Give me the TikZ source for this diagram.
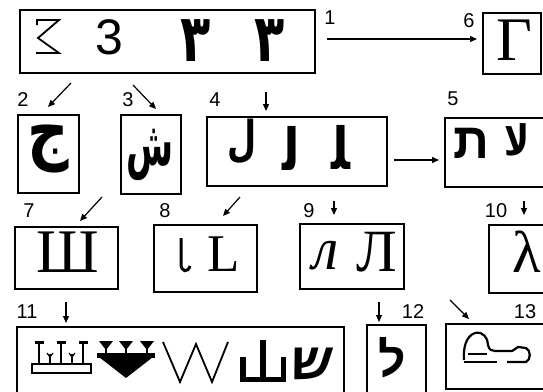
\documentclass[tikz,border=0pt]{standalone}
\usepackage{fontspec}
\usetikzlibrary{arrows.meta}
\newfontfamily\lab{Liberation Sans}
\newfontfamily\ser{Liberation Serif}
\newfontfamily\arb[Script=Arabic]{DejaVu Sans}
\newfontfamily\heb[Script=Hebrew]{Liberation Sans}
\TeXXeTstate=1
\tikzset{
  frame/.style={draw, line width=1.2pt, inner sep=0pt, outer sep=0pt},
  num/.style={font=\lab\fontsize{20}{20}\selectfont, inner sep=0pt},
  glyph/.style={inner sep=0pt, outer sep=0pt},
  conn/.style={line width=1.2pt, -{Triangle[length=7pt,width=6pt]}},
  ink/.style={line width=1.6pt, line join=miter}
}
\begin{document}
\begin{tikzpicture}[x=1pt,y=-1pt]
\useasboundingbox (0,0) rectangle (543,391);
\clip (0,0) rectangle (543,391);
\fill[white] (0,0) rectangle (543,391);
% boxes
\node[frame, minimum width=295pt, minimum height=63pt] (b1) at (167.5,41.5) {};
\node[frame, minimum width=58pt, minimum height=61pt] (b6) at (512,43.5) {};
\node[frame, minimum width=61pt, minimum height=78pt] (b2) at (48.5,154) {};
\node[frame, minimum width=60pt, minimum height=79pt] (b3) at (151,154.5) {};
\node[frame, minimum width=180pt, minimum height=69pt] (b4) at (297,151.5) {};
\node[frame, minimum width=115pt, minimum height=69pt] (b5) at (502.5,152.5) {};
\node[frame, minimum width=103pt, minimum height=62pt] (b7) at (66.5,258) {};
\node[frame, minimum width=103pt, minimum height=67pt] (b8) at (205.5,258.5) {};
\node[frame, minimum width=104pt, minimum height=65pt] (b9) at (352,256.5) {};
\node[frame, minimum width=71pt, minimum height=68pt] (b10) at (524.5,259) {};
\node[frame, minimum width=327pt, minimum height=73pt] (b11) at (180.5,363.5) {};
\node[frame, minimum width=59pt, minimum height=75pt] (b12) at (396.5,362.5) {};
\node[frame, minimum width=114pt, minimum height=65pt] (b13) at (503,356.5) {};
% labels
\node[num] (n1) at (330,17.5) {1};
\node[num] (n6) at (469,21) {6};
\node[num] (n2) at (23,100) {2};
\node[num] (n3) at (128,100) {3};
\node[num] (n4) at (215,100) {4};
\node[num] (n5) at (453,99) {5};
\node[num] (n7) at (29,211) {7};
\node[num] (n8) at (165,211) {8};
\node[num] (n9) at (309,211) {9};
\node[num] (n10) at (496,211) {10};
\node[num] (n11) at (27,312) {11};
\node[num] (n12) at (413,312) {12};
\node[num] (n13) at (525,312) {13};
% main connectors
\coordinate (p1) at (327,39);
\coordinate (q1) at (477,39);
\draw[conn] (p1) -- (q1);
\coordinate (p45) at (394,160);
\coordinate (q45) at (439,160);
\draw[conn] (p45) -- (q45);
% small pointer arrows
\coordinate (s2) at (71,83);  \coordinate (e2) at (48,107);
\coordinate (s3) at (133,85); \coordinate (e3) at (156,109);
\coordinate (s4) at (266,92); \coordinate (e4) at (266,111);
\coordinate (s7) at (102,197); \coordinate (e7) at (80,221);
\coordinate (s8) at (240,197); \coordinate (e8) at (223,216);
\coordinate (s9) at (334,201); \coordinate (e9) at (334,215);
\coordinate (s10) at (524,201); \coordinate (e10) at (524,215);
\coordinate (s11) at (66,302); \coordinate (e11) at (66,323);
\coordinate (s12) at (379,302); \coordinate (e12) at (379,322);
\coordinate (s13) at (450,300); \coordinate (e13) at (469,319);
\foreach \k in {2,3,4,7,8,9,10,11,12,13} \draw[conn] (s\k) -- (e\k);
% box 1 glyphs
\draw[ink, line width=1.8pt] (37,25) -- (37,20) -- (59,20) -- (38,38) -- (59,53) -- (36,53);
\node[glyph, font=\lab\fontsize{50}{50}\selectfont] (g1b) at (109,37) {3};
\node[glyph, font=\arb\bfseries\fontsize{66}{66}\selectfont, xscale=0.75] (g1c) at (196,40.5) {٣};
\node[glyph, font=\arb\bfseries\fontsize{66}{66}\selectfont, xscale=0.75] (g1d) at (270,40.5) {٣};
% box 6
\node[glyph, font=\ser\fontsize{62}{62}\selectfont] (g6) at (514,40.5) {Γ};
% box 2, 3
\node[glyph, font=\arb\bfseries\fontsize{72}{72}\selectfont, xscale=0.8, text height=0pt, text depth=0pt] (g2) at (48,155) {\beginR ج\endR};
\node[glyph, font=\arb\bfseries\fontsize{62}{62}\selectfont, xscale=0.55] (g3) at (150,155) {\beginR ش\endR};
% box 4
\node[glyph, font=\arb\bfseries\fontsize{48}{48}\selectfont, xscale=0.7] (g4a) at (242,142) {ﻝ};
\node[glyph, font=\arb\bfseries\fontsize{58}{58}\selectfont, xscale=0.8] (g4b) at (291,148) {ﻟ};
\node[glyph, font=\arb\bfseries\fontsize{58}{58}\selectfont, xscale=0.8] (g4c) at (341,147) {ﻠ};
% box 5
\node[glyph, font=\heb\bfseries\fontsize{50}{50}\selectfont] (g5a) at (471,143.5) {\beginR ת\endR};
\node[glyph, font=\arb\bfseries\fontsize{42}{42}\selectfont, xscale=0.8] (g5b) at (517,140) {\beginR لا\endR};
% row 3
\node[glyph, font=\ser\fontsize{62}{62}\selectfont] (g7) at (67.5,252.5) {Ш};
\draw[line width=3pt] (181,238) -- (181,264) .. controls (181,272) and (188,273) .. (190,266);
\node[glyph, font=\ser\fontsize{53}{53}\selectfont] (g8) at (223.5,254.5) {L};
\node[glyph, font=\ser\itshape\fontsize{60}{60}\selectfont] (g9a) at (326,256) {л};
\node[glyph, font=\ser\fontsize{60}{60}\selectfont] (g9b) at (376.5,252) {Л};
\node[glyph, font=\ser\fontsize{59}{59}\selectfont] (g10) at (527,252) {λ};
% box 11 pictographs
\draw[line width=1.6pt] (32,364) rectangle (91,373);
\foreach \u in {39,61,83} {
  \draw[line width=2.6pt] (\u,342) -- (\u,364);
  \draw[line width=2.2pt] (\u-4.5,342.5) -- (\u+4.5,342.5);
}
\foreach \u in {50,72} {
  \draw[line width=1.4pt] (\u,354) -- (\u,364);
  \draw[line width=1.2pt] (\u-3,353) -- (\u,357) -- (\u+3,353);
}
\foreach \u in {106,126,147} {
  \fill (\u-7,341) -- (\u+7,341) -- (\u,350) -- cycle;
  \draw[line width=2.4pt] (\u,347) -- (\u,355);
}
\fill (97,353) rectangle (155,358);
\fill (99,357) -- (153,357) -- (126,378) -- cycle;
\draw[line width=1.8pt, line join=miter] (163,342) -- (180,382) -- (196,344) -- (212,382) -- (228,342);
\fill (240,357) rectangle (245.5,382);
\fill (280.5,357) rectangle (286,382);
\fill (260,340) rectangle (266,382);
\fill (240,377) rectangle (286,382);
\node[glyph, font=\heb\bfseries\fontsize{52}{52}\selectfont, xslant=0.2] (g11) at (311.5,363.5) {\beginR ש\endR};
% box 12
\node[glyph, font=\heb\bfseries\fontsize{48}{48}\selectfont] (g12) at (392,357.5) {\beginR ל\endR};
% box 13
\draw[line width=2.2pt, line join=round]
  (464,360) .. controls (463,348) and (466,336) .. (475,333)
  .. controls (483,331) and (488,338) .. (488,345)
  .. controls (489,350) and (492,351) .. (495,351)
  -- (512,351) -- (518,347) -- (526,348)
  .. controls (531,350) and (531,360) .. (526,362)
  -- (507,362);
\draw[line width=2.2pt] (497,362) -- (464,362);
\draw[line width=2.2pt] (468,354) -- (487,354);
\end{tikzpicture}
\end{document}
